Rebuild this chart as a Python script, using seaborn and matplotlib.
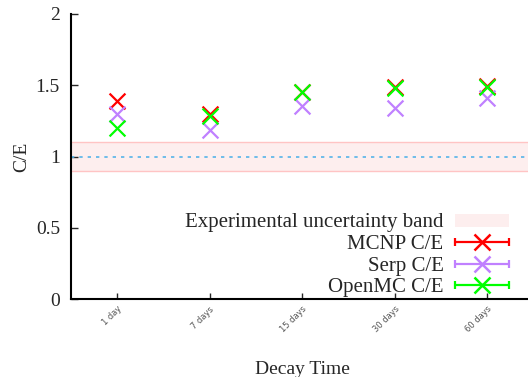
import numpy as np
import matplotlib
matplotlib.use("Agg")
import matplotlib.pyplot as plt
import pandas as pd
import seaborn as sns
from matplotlib.lines import Line2D
from matplotlib.patches import Patch
from matplotlib.legend_handler import HandlerLine2D, HandlerTuple

# values
decay = ["1 day", "7 days", "15 days", "30 days", "60 days"]
mcnp = [1.39, 1.30, 1.455, 1.488, 1.495]
serp = [1.296, 1.185, 1.355, 1.343, 1.408]
openmc = [1.197, 1.284, 1.455, 1.484, 1.486]
band_lo, band_hi = 0.9, 1.1

sns.set_style("ticks")
plt.rcParams["font.family"] = ["Liberation Serif", "DejaVu Serif"]

df = pd.DataFrame({"decay": decay * 3,
                   "ce": mcnp + serp + openmc,
                   "code": ["MCNP C/E"] * 5 + ["Serp C/E"] * 5 + ["OpenMC C/E"] * 5})
colors = {"MCNP C/E": "#ff0000", "Serp C/E": "#c080ff", "OpenMC C/E": "#00ff00"}

fig = plt.figure(figsize=(5.28, 3.77), dpi=100)
ax = fig.add_axes([71 / 528, 78 / 377, 462.5 / 528, 285 / 377])

# uncertainty band + reference line
ax.axhspan(band_lo, band_hi, facecolor="#fdeeee", edgecolor="none", zorder=0)
ax.axhline(band_lo, color="#ffc4c4", lw=1, zorder=0.5)
ax.axhline(band_hi, color="#ffc4c4", lw=1, zorder=0.5)
ax.axhline(1.0, color="#56b4e9", lw=1.2, ls=(0, (2, 3)), zorder=0.6)

for code in ["MCNP C/E", "Serp C/E", "OpenMC C/E"]:
    sub = df[df.code == code]
    sns.scatterplot(data=sub, x="decay", y="ce", color=colors[code], marker="x",
                    s=130, linewidth=1.6, ax=ax, legend=False, zorder=3)

ax.set_xlim(-0.5, 4.5)
ax.set_ylim(0, 2)
ax.set_yticks([0, 0.5, 1, 1.5, 2])
ax.set_yticklabels(["0", "0.5", "1", "1.5", "2"])
ax.set_xticks(range(len(decay)))
ax.set_xticklabels(decay, rotation=45, ha="right", va="top", rotation_mode="anchor",
                   fontsize=6, color="#555555", family="DejaVu Sans")
ax.tick_params(axis="y", direction="in", length=5, width=1, labelsize=14, pad=8)
ax.tick_params(axis="x", direction="in", length=4, width=1, pad=4)
for side in ["top", "right"]:
    ax.spines[side].set_visible(False)
for side in ["left", "bottom"]:
    ax.spines[side].set_linewidth(1.5)
    ax.spines[side].set_color("black")

ax.set_xlabel("Decay Time", fontsize=14, labelpad=19)
ax.set_ylabel("C/E", fontsize=14, labelpad=4)

# legend with gnuplot-like errorbar samples
handles = [Patch(facecolor="#fdeeee", edgecolor="none")]
hmap = {}
for code in ["MCNP C/E", "Serp C/E", "OpenMC C/E"]:
    mark = Line2D([], [], color=colors[code], marker="x", ms=11, mew=1.8, lw=1.6)
    caps = Line2D([], [], color=colors[code], marker="|", ms=6, mew=1.6, lw=0)
    hmap[caps] = HandlerLine2D(numpoints=2, marker_pad=0)
    handles.append((mark, caps))
hmap[tuple] = HandlerTuple(ndivide=1)
ax.legend(handles, ["Experimental uncertainty band", "MCNP C/E", "Serp C/E", "OpenMC C/E"],
          handler_map=hmap, loc="lower right", bbox_transform=fig.transFigure,
          bbox_to_anchor=(509 / 528, 1 - 297 / 377), frameon=False, markerfirst=False,
          fontsize=15, handlelength=2.6, handleheight=0.6, labelspacing=0.12,
          handletextpad=0.55, borderpad=0, borderaxespad=0)

fig.savefig("out.png", dpi=100)
